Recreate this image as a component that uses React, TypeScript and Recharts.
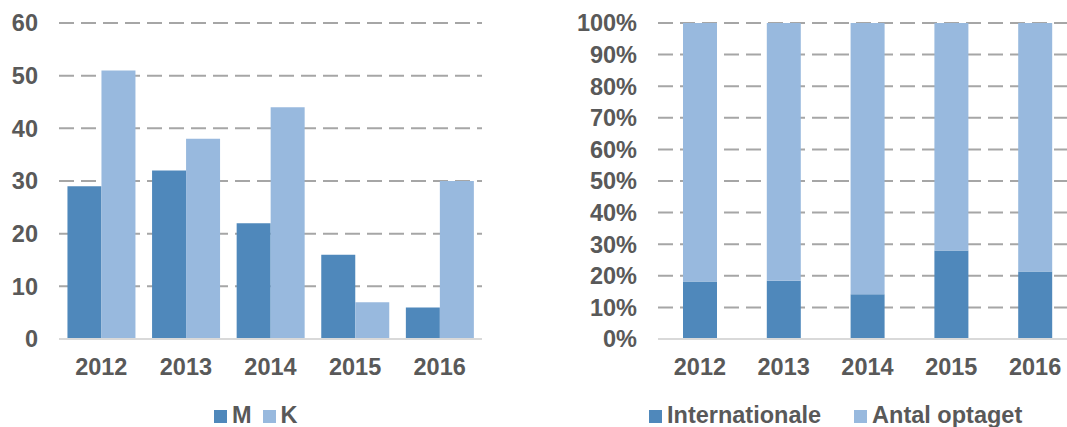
import { BarChart, Bar, XAxis, YAxis, CartesianGrid, Legend } from "recharts";

const years = ["2012", "2013", "2014", "2015", "2016"];
const menValues = [29, 32, 22, 16, 6];
const womenValues = [51, 38, 44, 7, 30];
const internationalShare = [18.2, 18.4, 14.2, 28.0, 21.4];
const admittedShare = [81.8, 81.6, 85.8, 72.0, 78.6];
const countTicks = [0, 10, 20, 30, 40, 50, 60];
const percentTicks = [0, 10, 20, 30, 40, 50, 60, 70, 80, 90, 100];

const DARK = "#4F88BB";
const LIGHT = "#98B9DE";
const TEXT = "#595959";
const FONT = "'Liberation Sans', Arial, sans-serif";

const tickStyle = { fill: TEXT, fontSize: 23.5, fontWeight: 700, fontFamily: FONT };

const genderData = years.map((year, i) => ({
  year,
  M: menValues[i],
  K: womenValues[i],
}));

const shareData = years.map((year, i) => ({
  year,
  Internationale: internationalShare[i],
  "Antal optaget": admittedShare[i],
}));

// legend drawn in series order, square swatch sitting on the text baseline
const makeLegend = (items: { name: string; color: string }[], gap: number) => () => (
  <div style={{ fontFamily: FONT, whiteSpace: "nowrap", lineHeight: "24px", fontSize: 23.5 }}>
    {items.map((it, i) => (
      <span key={it.name} style={{ marginRight: i < items.length - 1 ? gap : 0 }}>
        <span
          style={{ width: 13, height: 13, background: it.color, display: "inline-block", marginRight: 5 }}
        />
        <span style={{ color: TEXT, fontWeight: 700 }}>{it.name}</span>
      </span>
    ))}
  </div>
);

const genderLegend = makeLegend(
  [
    { name: "M", color: DARK },
    { name: "K", color: LIGHT },
  ],
  11
);
const shareLegend = makeLegend(
  [
    { name: "Internationale", color: DARK },
    { name: "Antal optaget", color: LIGHT },
  ],
  33
);

export default function App() {
  return (
    <div style={{ position: "relative", width: 1067, height: 427, background: "#fff", overflow: "hidden" }}>
      <style>{`body{margin:0}`}</style>
      <div style={{ position: "absolute", left: 0, top: 0 }}>
        <BarChart
          width={500}
          height={427}
          data={genderData}
          margin={{ top: 23, right: 18, left: 0, bottom: 0 }}
          barCategoryGap="10%"
          barGap={0}
        >
          <CartesianGrid vertical={false} stroke="#A6A6A6" strokeWidth={2} strokeDasharray="15 7" />
          <XAxis
            dataKey="year"
            height={64}
            axisLine={{ stroke: "#D9D9D9", strokeWidth: 2 }}
            tickLine={false}
            tickSize={0}
            tickMargin={19}
            tick={tickStyle}
            interval={0}
          />
          <YAxis
            width={59}
            domain={[0, 60]}
            ticks={countTicks}
            interval={0}
            axisLine={false}
            tickLine={false}
            tickSize={0}
            tickMargin={21}
            tick={tickStyle}
          />
          <Legend verticalAlign="bottom" content={genderLegend} wrapperStyle={{ left: 214, width: "auto" }} />
          <Bar dataKey="M" fill={DARK} isAnimationActive={false} />
          <Bar dataKey="K" fill={LIGHT} isAnimationActive={false} />
        </BarChart>
      </div>
      <div style={{ position: "absolute", left: 533, top: 0 }}>
        <BarChart
          width={544}
          height={427}
          data={shareData}
          margin={{ top: 23, right: 0, left: 0, bottom: 0 }}
          barSize={34}
        >
          <CartesianGrid vertical={false} stroke="#A6A6A6" strokeWidth={2} strokeDasharray="15 7" />
          <XAxis
            dataKey="year"
            height={64}
            axisLine={{ stroke: "#D9D9D9", strokeWidth: 2 }}
            tickLine={false}
            tickSize={0}
            tickMargin={19}
            tick={tickStyle}
            interval={0}
          />
          <YAxis
            width={125}
            domain={[0, 100]}
            ticks={percentTicks}
            interval={0}
            axisLine={false}
            tickLine={false}
            tickSize={0}
            tickMargin={21}
            tick={tickStyle}
            tickFormatter={(v: number) => `${v}%`}
          />
          <Legend verticalAlign="bottom" content={shareLegend} wrapperStyle={{ left: 116, width: "auto" }} />
          <Bar dataKey="Internationale" stackId="a" fill={DARK} isAnimationActive={false} />
          <Bar dataKey="Antal optaget" stackId="a" fill={LIGHT} isAnimationActive={false} />
        </BarChart>
      </div>
    </div>
  );
}
